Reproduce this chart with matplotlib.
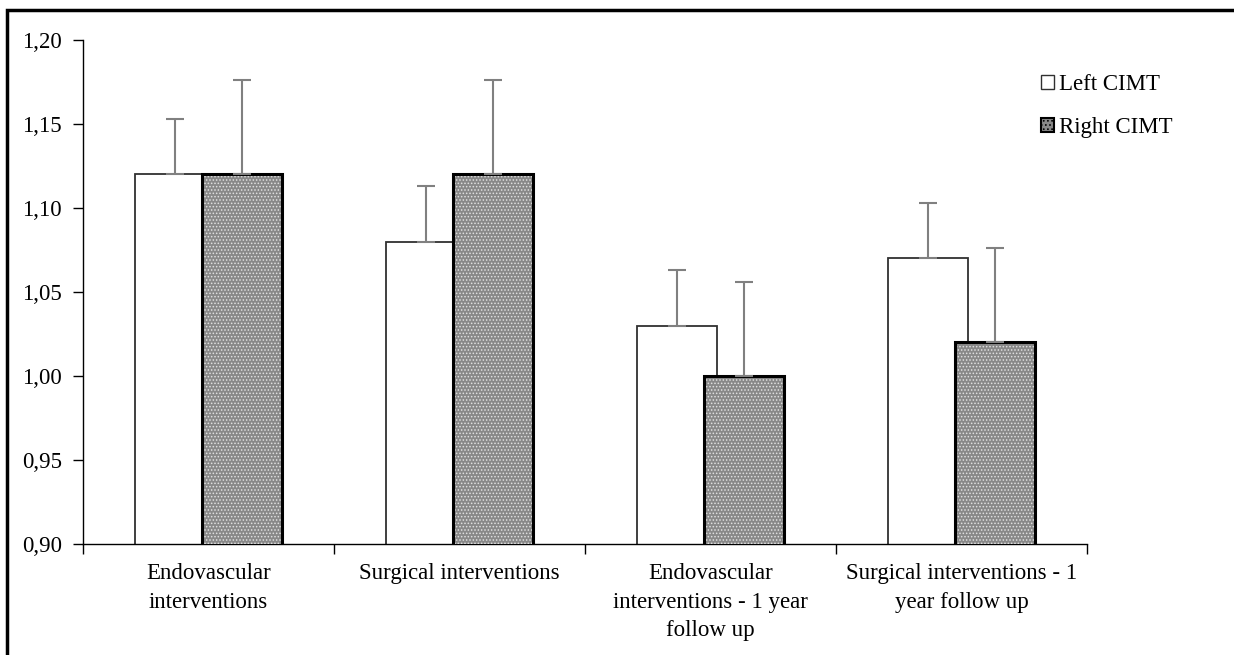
import matplotlib
matplotlib.use("Agg")
import matplotlib.pyplot as plt
from matplotlib.patches import Patch, Rectangle
import numpy as np

plt.rcParams['font.family'] = ['Liberation Serif', 'DejaVu Serif']
plt.rcParams['hatch.linewidth'] = 0.7

categories = ["Endovascular\ninterventions",
              "Surgical interventions",
              "Endovascular\ninterventions - 1 year\nfollow up",
              "Surgical interventions - 1\nyear follow up"]
left_cimt = [1.12, 1.08, 1.03, 1.07]
right_cimt = [1.12, 1.12, 1.00, 1.02]
left_err = [0.033, 0.033, 0.033, 0.033]
right_err = [0.056, 0.056, 0.056, 0.056]
yticks = [0.90, 0.95, 1.00, 1.05, 1.10, 1.15, 1.20]

fig = plt.figure(figsize=(12.34, 6.55), dpi=100)
ax = fig.add_axes([83/1234, 1-544/655, 1004/1234, 504/655])

x = np.arange(len(categories))
w = 0.32
off = 0.133
gray = '#888888'
fs = 16.5

ax.bar(x - off, left_cimt, w, color='white', edgecolor='#303030',
       linewidth=1.3, zorder=2)
# dotted fill, then the black outline on top
ax.bar(x + off, right_cimt, w, color=gray, edgecolor='#e0e0e0', hatch='.....',
       linewidth=0, zorder=3)
ax.bar(x + off, right_cimt, w, fill=False, edgecolor='black', linewidth=2.2,
       zorder=3.5)

ax.errorbar(x - off, left_cimt, yerr=[[0]*4, left_err], fmt='none',
            ecolor='#808080', elinewidth=1.5, capsize=6.5, capthick=1.5, zorder=4)
ax.errorbar(x + off, right_cimt, yerr=[[0]*4, right_err], fmt='none',
            ecolor='#808080', elinewidth=1.5, capsize=6.5, capthick=1.5, zorder=4)

ax.set_ylim(0.90, 1.20)
ax.set_xlim(-0.5, 3.5)
ax.set_yticks(yticks)
ax.set_yticklabels([('%.2f' % v).replace('.', ',') for v in yticks], fontsize=fs)

ax.set_xticks(np.arange(-0.5, 4, 1.0))
ax.set_xticklabels([])
ax.set_xticks(x, minor=True)
ax.set_xticklabels(categories, minor=True, fontsize=fs, linespacing=1.45)
ax.tick_params(axis='x', which='major', direction='out', length=7, width=1)
ax.tick_params(axis='x', which='minor', length=0, pad=14)
ax.tick_params(axis='y', direction='out', length=7, width=1, pad=8)

for s in ['top', 'right']:
    ax.spines[s].set_visible(False)
ax.spines['left'].set_linewidth(1)
ax.spines['bottom'].set_linewidth(1)

handles = [Patch(facecolor='white', edgecolor='#303030', linewidth=1),
           Patch(facecolor=gray, edgecolor='black', hatch='....', linewidth=1.5)]
leg = fig.legend(handles, ['Left CIMT', 'Right CIMT'], loc='upper left',
                 bbox_to_anchor=(1030/1234, 1-63/655), frameon=False,
                 fontsize=fs, handlelength=0.55, handleheight=0.55,
                 handletextpad=0.2, labelspacing=0.95, borderpad=0)

# frame around the picture (only top and left visible)
fig.patches.append(Rectangle((7/1234, -0.1), 1.2, 1.1 - 10/655, fill=False,
                             edgecolor='black', linewidth=2.5,
                             transform=fig.transFigure, figure=fig))

fig.savefig('out.png', dpi=100)
